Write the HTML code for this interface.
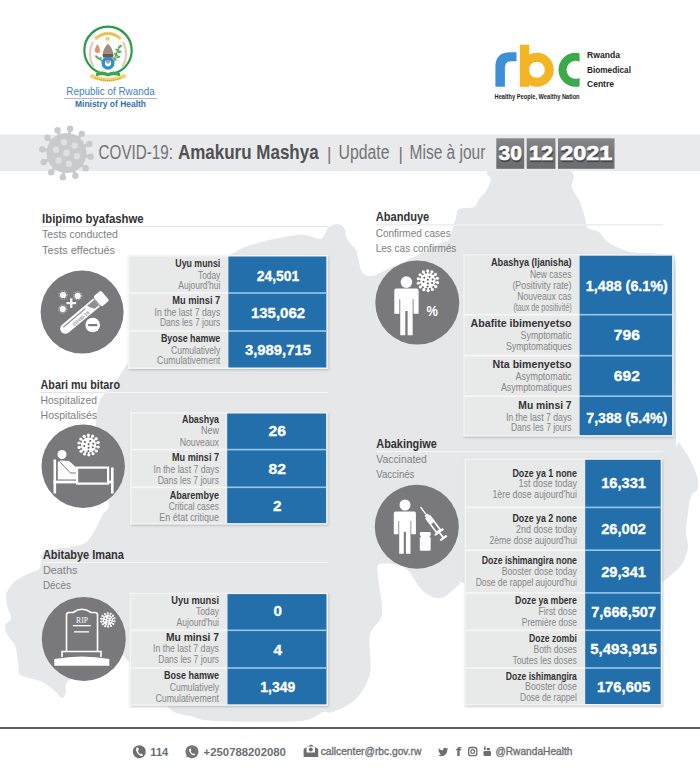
<!DOCTYPE html>
<html><head><meta charset="utf-8"><title>COVID-19 Update</title>
<style>html,body{margin:0;padding:0;background:#fff;width:700px;height:779px;overflow:hidden}</style>
</head><body>
<svg width="700" height="779" viewBox="0 0 700 779" style="display:block">
<defs>
<filter id="sh" x="-10%" y="-10%" width="120%" height="120%"><feGaussianBlur stdDeviation="1.2"/></filter>
<linearGradient id="dg" x1="0" y1="0" x2="0" y2="1"><stop offset="0" stop-color="#858688"/><stop offset="0.5" stop-color="#767779"/><stop offset="1" stop-color="#6a6b6d"/></linearGradient>
<g id="virus">
 <circle cx="0" cy="0" r="7.2" fill="#fff"/>
 <line x1="6.37" y1="1.29" x2="8.82" y2="1.79" stroke="#fff" stroke-width="1.3"/>
 <circle cx="9.21" cy="1.87" r="1.5" fill="#fff"/>
 <line x1="5.18" y1="3.93" x2="7.17" y2="5.44" stroke="#fff" stroke-width="1.3"/>
 <circle cx="7.49" cy="5.68" r="1.5" fill="#fff"/>
 <line x1="2.96" y1="5.79" x2="4.10" y2="8.01" stroke="#fff" stroke-width="1.3"/>
 <circle cx="4.28" cy="8.37" r="1.5" fill="#fff"/>
 <line x1="0.16" y1="6.50" x2="0.22" y2="9.00" stroke="#fff" stroke-width="1.3"/>
 <circle cx="0.23" cy="9.40" r="1.5" fill="#fff"/>
 <line x1="-2.68" y1="5.92" x2="-3.71" y2="8.20" stroke="#fff" stroke-width="1.3"/>
 <circle cx="-3.87" cy="8.57" r="1.5" fill="#fff"/>
 <line x1="-4.98" y1="4.18" x2="-6.90" y2="5.78" stroke="#fff" stroke-width="1.3"/>
 <circle cx="-7.20" cy="6.04" r="1.5" fill="#fff"/>
 <line x1="-6.30" y1="1.60" x2="-8.72" y2="2.22" stroke="#fff" stroke-width="1.3"/>
 <circle cx="-9.11" cy="2.31" r="1.5" fill="#fff"/>
 <line x1="-6.37" y1="-1.29" x2="-8.82" y2="-1.79" stroke="#fff" stroke-width="1.3"/>
 <circle cx="-9.21" cy="-1.87" r="1.5" fill="#fff"/>
 <line x1="-5.18" y1="-3.93" x2="-7.17" y2="-5.44" stroke="#fff" stroke-width="1.3"/>
 <circle cx="-7.49" cy="-5.68" r="1.5" fill="#fff"/>
 <line x1="-2.96" y1="-5.79" x2="-4.10" y2="-8.01" stroke="#fff" stroke-width="1.3"/>
 <circle cx="-4.28" cy="-8.37" r="1.5" fill="#fff"/>
 <line x1="-0.16" y1="-6.50" x2="-0.22" y2="-9.00" stroke="#fff" stroke-width="1.3"/>
 <circle cx="-0.23" cy="-9.40" r="1.5" fill="#fff"/>
 <line x1="2.68" y1="-5.92" x2="3.71" y2="-8.20" stroke="#fff" stroke-width="1.3"/>
 <circle cx="3.87" cy="-8.57" r="1.5" fill="#fff"/>
 <line x1="4.98" y1="-4.18" x2="6.90" y2="-5.78" stroke="#fff" stroke-width="1.3"/>
 <circle cx="7.20" cy="-6.04" r="1.5" fill="#fff"/>
 <line x1="6.30" y1="-1.60" x2="8.72" y2="-2.22" stroke="#fff" stroke-width="1.3"/>
 <circle cx="9.11" cy="-2.31" r="1.5" fill="#fff"/>
 <circle cx="-3.5" cy="-2.8" r="0.95" fill="#5a5b5d"/>
 <circle cx="1.5" cy="-3.8" r="0.95" fill="#5a5b5d"/>
 <circle cx="4.5" cy="-1.2" r="0.95" fill="#5a5b5d"/>
 <circle cx="-4.2" cy="1.0" r="0.95" fill="#5a5b5d"/>
 <circle cx="0.0" cy="-0.8" r="0.95" fill="#5a5b5d"/>
 <circle cx="4.0" cy="2.2" r="0.95" fill="#5a5b5d"/>
 <circle cx="0.0" cy="2.6" r="0.95" fill="#5a5b5d"/>
 <circle cx="-0.3" cy="5.6" r="0.95" fill="#5a5b5d"/>
</g>
</defs>
<rect width="700" height="779" fill="#fff"/>
<clipPath id="mapclip"><path d="M140.0 345.0 C146.2 334.0 154.8 304.9 170.0 290.0 C185.2 275.1 220.3 259.7 235.0 252.0 C249.7 244.3 253.2 244.6 262.0 242.0 C270.8 239.4 283.1 237.1 290.0 236.0 C296.9 234.9 300.2 234.5 305.0 235.0 C309.8 235.5 316.8 239.2 320.0 239.0 C323.2 238.8 323.7 235.8 325.0 234.0 C326.3 232.2 326.6 229.5 328.0 228.0 C329.4 226.5 331.9 225.0 334.0 224.5 C336.1 224.0 339.2 224.1 341.0 225.0 C342.8 225.9 344.2 228.1 345.0 230.0 C345.8 231.9 345.0 234.8 346.0 237.0 C347.0 239.2 349.4 241.9 351.0 244.0 C352.6 246.1 354.9 247.9 356.0 250.0 C357.1 252.1 357.0 253.5 358.0 257.0 C359.0 260.5 359.8 269.0 362.0 272.0 C364.2 275.0 367.5 276.6 372.0 276.0 C376.5 275.4 383.3 271.0 390.0 268.0 C396.7 265.0 405.8 261.0 414.0 257.0 C422.2 253.0 435.4 245.7 441.0 243.0 C446.6 240.3 447.1 242.6 449.0 240.0 C450.9 237.4 451.9 230.5 453.0 227.0 C454.1 223.5 455.0 220.9 456.0 218.0 C457.0 215.1 456.1 210.8 459.0 209.0 C461.9 207.2 470.8 208.6 474.0 207.0 C477.2 205.4 477.1 201.6 479.0 199.0 C480.9 196.4 484.1 194.0 486.0 191.0 C487.9 188.0 490.0 183.4 491.0 180.0 C492.0 176.6 479.8 171.6 492.0 170.0 C504.2 168.4 554.2 167.1 567.0 170.0 C579.8 172.9 569.9 182.9 572.0 188.0 C574.1 193.1 577.9 197.2 580.0 202.0 C582.1 206.8 583.7 213.8 585.0 218.0 C586.3 222.2 585.8 225.8 588.0 228.0 C590.2 230.2 595.6 229.6 599.0 232.0 C602.4 234.4 603.9 239.8 609.0 243.0 C614.1 246.2 622.8 250.2 631.0 252.0 C639.2 253.8 653.1 252.7 660.0 254.0 C666.9 255.3 671.4 252.6 674.0 260.0 C676.6 267.4 675.7 271.8 676.0 300.0 C676.3 328.2 675.5 413.3 676.0 436.0 C676.5 458.7 677.1 438.8 679.0 442.0 C680.9 445.2 685.3 451.0 688.0 456.0 C690.7 461.0 694.4 467.9 696.0 473.0 C697.6 478.1 698.8 484.3 698.0 488.0 C697.2 491.7 692.6 492.0 691.0 496.0 C689.4 500.0 688.8 507.1 688.0 513.0 C687.2 518.9 686.0 527.6 686.0 533.0 C686.0 538.4 688.6 542.0 688.0 547.0 C687.4 552.0 684.7 559.5 682.0 564.0 C679.3 568.5 673.9 572.3 671.0 575.0 C668.1 577.7 669.0 577.0 664.0 581.0 C659.0 585.0 650.2 590.6 640.0 600.0 C629.8 609.4 628.3 642.7 600.0 640.0 C571.7 637.3 485.4 592.0 463.0 583.0 C440.6 574.0 463.5 581.6 460.0 584.0 C456.5 586.4 446.9 596.9 441.0 598.0 C435.1 599.1 428.8 595.8 423.0 591.0 C417.2 586.2 411.9 572.3 405.0 568.0 C398.1 563.7 384.3 562.7 380.0 564.0 C375.7 565.3 377.7 568.0 378.0 576.0 C378.3 584.0 383.3 604.6 382.0 614.0 C380.7 623.4 371.9 625.6 370.0 635.0 C368.1 644.4 372.2 662.8 370.0 673.0 C367.8 683.2 361.9 692.8 356.0 699.0 C350.1 705.2 338.3 709.9 333.0 712.0 C327.7 714.1 328.3 710.6 323.0 712.0 C317.7 713.4 317.3 719.6 300.0 721.0 C282.7 722.4 232.6 721.8 215.0 721.0 C197.4 720.2 195.6 717.1 190.0 716.0 C184.4 714.9 183.7 715.6 180.0 714.0 C176.3 712.4 175.3 714.5 167.0 706.0 C158.7 697.5 135.7 669.2 128.0 661.0 C120.3 652.8 125.1 653.6 119.0 655.0 C112.9 656.4 98.2 665.8 90.0 670.0 C81.8 674.2 71.6 677.5 67.7 681.3 C63.8 685.1 66.6 691.0 65.6 693.6 C64.6 696.2 63.5 698.4 61.5 697.7 C59.5 697.0 56.6 692.1 53.3 689.5 C50.0 686.9 46.2 683.6 41.0 681.3 C35.8 679.0 24.1 677.6 20.5 675.0 C16.9 672.4 19.3 669.5 18.5 664.9 C17.7 660.3 17.0 651.0 15.4 646.4 C13.8 641.8 9.8 639.3 8.2 636.0 C6.6 632.7 4.6 628.8 5.1 625.9 C5.6 623.0 10.8 620.3 11.3 617.7 C11.8 615.1 9.0 612.5 8.2 609.5 C7.4 606.5 6.4 601.8 6.2 599.0 C6.0 596.2 5.7 594.7 7.0 592.0 C8.3 589.3 10.8 584.9 14.3 582.0 C17.8 579.1 24.5 575.8 28.6 573.6 C32.7 571.4 37.7 571.5 40.0 568.0 C42.3 564.5 40.3 555.1 43.0 552.0 C45.7 548.9 52.4 549.4 57.0 548.6 C61.6 547.8 67.3 547.7 71.5 547.0 C75.7 546.3 80.0 545.4 83.0 544.0 C86.0 542.6 87.9 540.6 90.0 538.0 C92.1 535.4 93.9 531.8 96.0 528.0 C98.1 524.2 100.9 518.0 103.0 514.0 C105.1 510.0 109.5 511.6 109.0 503.0 C108.5 494.4 102.1 472.6 100.0 460.0 C97.9 447.4 96.5 431.8 96.0 424.0 C95.5 416.2 96.4 414.8 97.0 411.0 C97.6 407.2 98.6 403.0 100.0 400.0 C101.4 397.0 104.6 393.6 106.0 392.0 C107.4 390.4 107.1 392.2 109.0 390.0 C110.9 387.8 115.1 382.2 118.0 378.0 C120.9 373.8 124.9 367.0 127.0 364.0 C129.1 361.0 128.9 362.0 131.0 359.0 C133.1 356.0 133.8 356.0 140.0 345.0 Z"/></clipPath>
<path d="M140.0 345.0 C146.2 334.0 154.8 304.9 170.0 290.0 C185.2 275.1 220.3 259.7 235.0 252.0 C249.7 244.3 253.2 244.6 262.0 242.0 C270.8 239.4 283.1 237.1 290.0 236.0 C296.9 234.9 300.2 234.5 305.0 235.0 C309.8 235.5 316.8 239.2 320.0 239.0 C323.2 238.8 323.7 235.8 325.0 234.0 C326.3 232.2 326.6 229.5 328.0 228.0 C329.4 226.5 331.9 225.0 334.0 224.5 C336.1 224.0 339.2 224.1 341.0 225.0 C342.8 225.9 344.2 228.1 345.0 230.0 C345.8 231.9 345.0 234.8 346.0 237.0 C347.0 239.2 349.4 241.9 351.0 244.0 C352.6 246.1 354.9 247.9 356.0 250.0 C357.1 252.1 357.0 253.5 358.0 257.0 C359.0 260.5 359.8 269.0 362.0 272.0 C364.2 275.0 367.5 276.6 372.0 276.0 C376.5 275.4 383.3 271.0 390.0 268.0 C396.7 265.0 405.8 261.0 414.0 257.0 C422.2 253.0 435.4 245.7 441.0 243.0 C446.6 240.3 447.1 242.6 449.0 240.0 C450.9 237.4 451.9 230.5 453.0 227.0 C454.1 223.5 455.0 220.9 456.0 218.0 C457.0 215.1 456.1 210.8 459.0 209.0 C461.9 207.2 470.8 208.6 474.0 207.0 C477.2 205.4 477.1 201.6 479.0 199.0 C480.9 196.4 484.1 194.0 486.0 191.0 C487.9 188.0 490.0 183.4 491.0 180.0 C492.0 176.6 479.8 171.6 492.0 170.0 C504.2 168.4 554.2 167.1 567.0 170.0 C579.8 172.9 569.9 182.9 572.0 188.0 C574.1 193.1 577.9 197.2 580.0 202.0 C582.1 206.8 583.7 213.8 585.0 218.0 C586.3 222.2 585.8 225.8 588.0 228.0 C590.2 230.2 595.6 229.6 599.0 232.0 C602.4 234.4 603.9 239.8 609.0 243.0 C614.1 246.2 622.8 250.2 631.0 252.0 C639.2 253.8 653.1 252.7 660.0 254.0 C666.9 255.3 671.4 252.6 674.0 260.0 C676.6 267.4 675.7 271.8 676.0 300.0 C676.3 328.2 675.5 413.3 676.0 436.0 C676.5 458.7 677.1 438.8 679.0 442.0 C680.9 445.2 685.3 451.0 688.0 456.0 C690.7 461.0 694.4 467.9 696.0 473.0 C697.6 478.1 698.8 484.3 698.0 488.0 C697.2 491.7 692.6 492.0 691.0 496.0 C689.4 500.0 688.8 507.1 688.0 513.0 C687.2 518.9 686.0 527.6 686.0 533.0 C686.0 538.4 688.6 542.0 688.0 547.0 C687.4 552.0 684.7 559.5 682.0 564.0 C679.3 568.5 673.9 572.3 671.0 575.0 C668.1 577.7 669.0 577.0 664.0 581.0 C659.0 585.0 650.2 590.6 640.0 600.0 C629.8 609.4 628.3 642.7 600.0 640.0 C571.7 637.3 485.4 592.0 463.0 583.0 C440.6 574.0 463.5 581.6 460.0 584.0 C456.5 586.4 446.9 596.9 441.0 598.0 C435.1 599.1 428.8 595.8 423.0 591.0 C417.2 586.2 411.9 572.3 405.0 568.0 C398.1 563.7 384.3 562.7 380.0 564.0 C375.7 565.3 377.7 568.0 378.0 576.0 C378.3 584.0 383.3 604.6 382.0 614.0 C380.7 623.4 371.9 625.6 370.0 635.0 C368.1 644.4 372.2 662.8 370.0 673.0 C367.8 683.2 361.9 692.8 356.0 699.0 C350.1 705.2 338.3 709.9 333.0 712.0 C327.7 714.1 328.3 710.6 323.0 712.0 C317.7 713.4 317.3 719.6 300.0 721.0 C282.7 722.4 232.6 721.8 215.0 721.0 C197.4 720.2 195.6 717.1 190.0 716.0 C184.4 714.9 183.7 715.6 180.0 714.0 C176.3 712.4 175.3 714.5 167.0 706.0 C158.7 697.5 135.7 669.2 128.0 661.0 C120.3 652.8 125.1 653.6 119.0 655.0 C112.9 656.4 98.2 665.8 90.0 670.0 C81.8 674.2 71.6 677.5 67.7 681.3 C63.8 685.1 66.6 691.0 65.6 693.6 C64.6 696.2 63.5 698.4 61.5 697.7 C59.5 697.0 56.6 692.1 53.3 689.5 C50.0 686.9 46.2 683.6 41.0 681.3 C35.8 679.0 24.1 677.6 20.5 675.0 C16.9 672.4 19.3 669.5 18.5 664.9 C17.7 660.3 17.0 651.0 15.4 646.4 C13.8 641.8 9.8 639.3 8.2 636.0 C6.6 632.7 4.6 628.8 5.1 625.9 C5.6 623.0 10.8 620.3 11.3 617.7 C11.8 615.1 9.0 612.5 8.2 609.5 C7.4 606.5 6.4 601.8 6.2 599.0 C6.0 596.2 5.7 594.7 7.0 592.0 C8.3 589.3 10.8 584.9 14.3 582.0 C17.8 579.1 24.5 575.8 28.6 573.6 C32.7 571.4 37.7 571.5 40.0 568.0 C42.3 564.5 40.3 555.1 43.0 552.0 C45.7 548.9 52.4 549.4 57.0 548.6 C61.6 547.8 67.3 547.7 71.5 547.0 C75.7 546.3 80.0 545.4 83.0 544.0 C86.0 542.6 87.9 540.6 90.0 538.0 C92.1 535.4 93.9 531.8 96.0 528.0 C98.1 524.2 100.9 518.0 103.0 514.0 C105.1 510.0 109.5 511.6 109.0 503.0 C108.5 494.4 102.1 472.6 100.0 460.0 C97.9 447.4 96.5 431.8 96.0 424.0 C95.5 416.2 96.4 414.8 97.0 411.0 C97.6 407.2 98.6 403.0 100.0 400.0 C101.4 397.0 104.6 393.6 106.0 392.0 C107.4 390.4 107.1 392.2 109.0 390.0 C110.9 387.8 115.1 382.2 118.0 378.0 C120.9 373.8 124.9 367.0 127.0 364.0 C129.1 361.0 128.9 362.0 131.0 359.0 C133.1 356.0 133.8 356.0 140.0 345.0 Z" fill="#e6e7e8"/>
<circle cx="108" cy="50.4" r="23.7" fill="none" stroke="#2b9a48" stroke-width="2.2"/>
<path d="M95 39 Q108 28 121 39" stroke="#f1d06a" stroke-width="3.2" fill="none"/>
<path d="M97 37.5 Q108 30 119 37.5" stroke="#8a7a50" stroke-width="0.6" fill="none" stroke-dasharray="1 0.8"/>
<circle cx="107.6" cy="38.8" r="2.3" fill="#f3d27a"/>
<path d="M93 42 Q86.5 54 93.5 67" stroke="#e2cdbd" stroke-width="2.2" fill="none"/>
<path d="M123 42 Q129.5 54 122.5 67" stroke="#e2cdbd" stroke-width="2.2" fill="none"/>
<path d="M97.5 44 Q94 49 95 52 Q97.5 54 100 52 Q100.5 48 97.5 44 Z" fill="#e3946c"/>
<path d="M102.3 56 Q103.5 47.5 108 43.8 Q112.5 47.5 113.7 56 Z" fill="#a38c7a"/>
<rect x="103" y="54" width="10" height="3.6" fill="#6a5a50"/>
<path d="M113.5 62.5 Q116 52 121 45" stroke="#5aae62" stroke-width="1.2" fill="none"/>
<ellipse cx="120.0" cy="46.5" rx="2.3" ry="1.1" fill="#5aae62" transform="rotate(-30 120.0 46.5)"/>
<ellipse cx="117.5" cy="50.0" rx="2.3" ry="1.1" fill="#5aae62" transform="rotate(30 117.5 50.0)"/>
<ellipse cx="119.5" cy="52.0" rx="2.3" ry="1.1" fill="#5aae62" transform="rotate(-20 119.5 52.0)"/>
<ellipse cx="116.0" cy="54.5" rx="2.3" ry="1.1" fill="#5aae62" transform="rotate(35 116.0 54.5)"/>
<ellipse cx="118.0" cy="57.0" rx="2.3" ry="1.1" fill="#5aae62" transform="rotate(-15 118.0 57.0)"/>
<ellipse cx="114.8" cy="59.0" rx="2.3" ry="1.1" fill="#5aae62" transform="rotate(40 114.8 59.0)"/>
<path d="M95.5 55.5 Q100 59.5 104.5 62" stroke="#5aae62" stroke-width="1.2" fill="none"/>
<ellipse cx="97.0" cy="57.5" rx="2" ry="1" fill="#5aae62" transform="rotate(40 97.0 57.5)"/>
<ellipse cx="100.0" cy="58.5" rx="2" ry="1" fill="#5aae62" transform="rotate(-30 100.0 58.5)"/>
<ellipse cx="102.5" cy="61.0" rx="2" ry="1" fill="#5aae62" transform="rotate(30 102.5 61.0)"/>
<circle cx="108" cy="63.2" r="4.8" fill="none" stroke="#2b90d2" stroke-width="3.4"/>
<circle cx="108" cy="61.5" r="2.2" fill="#7a6a60" opacity="0.6"/>
<path d="M96 73 Q102 70 108 73 Q114 70 120 73 L120 76.5 Q114 74 108 76.5 Q102 74 96 76.5 Z" fill="#3aa652"/>
<path d="M90.5 75.5 Q108 84 125.5 75.5" stroke="#f2d46b" stroke-width="4" fill="none"/>
<path d="M95 78 Q108 83 121 78" stroke="#7a6a40" stroke-width="0.6" fill="none" stroke-dasharray="1.2 0.8"/>
<text x="110.50" y="94.50" font-family="Liberation Sans" font-size="11.20" font-weight="normal" fill="#3c82c2" text-anchor="middle" textLength="88.50" lengthAdjust="spacingAndGlyphs" >Republic of Rwanda</text>
<rect x="64" y="98" width="93" height="0.8" fill="#9aa7b5"/>
<text x="110.50" y="106.80" font-family="Liberation Sans" font-size="8.60" font-weight="bold" fill="#2f72b2" text-anchor="middle" textLength="71.00" lengthAdjust="spacingAndGlyphs" >Ministry of Health</text>
<path d="M495.4 86.8 L495.4 67 Q495.4 52.2 510 52.2 L516.5 52.2 L516.5 61.3 L511 61.3 Q504.9 61.3 504.9 68 L504.9 86.8 Z" fill="#3f8fd6"/>
<rect x="519.9" y="44.7" width="9.4" height="42.1" fill="#f4b524"/>
<circle cx="536.8" cy="69.85" r="12.5" fill="none" stroke="#f4b524" stroke-width="9"/>
<clipPath id="cclip"><rect x="550" y="40" width="29.6" height="60"/></clipPath>
<circle cx="575.5" cy="69.85" r="13" fill="none" stroke="#3aaa4a" stroke-width="8" clip-path="url(#cclip)"/>
<text x="587.00" y="58.00" font-family="Liberation Sans" font-size="9.50" font-weight="bold" fill="#231f20" text-anchor="start" textLength="33.00" lengthAdjust="spacingAndGlyphs" >Rwanda</text>
<text x="587.00" y="72.60" font-family="Liberation Sans" font-size="9.50" font-weight="bold" fill="#231f20" text-anchor="start" textLength="44.00" lengthAdjust="spacingAndGlyphs" >Biomedical</text>
<text x="587.00" y="87.20" font-family="Liberation Sans" font-size="9.50" font-weight="bold" fill="#231f20" text-anchor="start" textLength="27.00" lengthAdjust="spacingAndGlyphs" >Centre</text>
<text x="494.60" y="99.20" font-family="Liberation Sans" font-size="7.40" font-weight="bold" fill="#231f20" text-anchor="start" textLength="85.00" lengthAdjust="spacingAndGlyphs" >Healthy People, Wealthy Nation</text>
<rect x="0" y="134.5" width="700" height="36.5" fill="#e9eaec"/>
<g transform="translate(66.5 153)" fill="#c9cacc">
<circle r="20"/>
<line x1="18.79" y1="2.84" x2="24.22" y2="3.66" stroke="#c9cacc" stroke-width="3"/>
<circle cx="24.22" cy="3.66" r="3.2"/>
<line x1="14.85" y1="11.85" x2="19.15" y2="15.28" stroke="#c9cacc" stroke-width="3"/>
<circle cx="19.15" cy="15.28" r="3.2"/>
<line x1="6.93" y1="17.69" x2="8.94" y2="22.81" stroke="#c9cacc" stroke-width="3"/>
<circle cx="8.94" cy="22.81" r="3.2"/>
<line x1="-2.84" y1="18.79" x2="-3.66" y2="24.22" stroke="#c9cacc" stroke-width="3"/>
<circle cx="-3.66" cy="24.22" r="3.2"/>
<line x1="-11.85" y1="14.85" x2="-15.28" y2="19.15" stroke="#c9cacc" stroke-width="3"/>
<circle cx="-15.28" cy="19.15" r="3.2"/>
<line x1="-17.69" y1="6.93" x2="-22.81" y2="8.94" stroke="#c9cacc" stroke-width="3"/>
<circle cx="-22.81" cy="8.94" r="3.2"/>
<line x1="-18.79" y1="-2.84" x2="-24.22" y2="-3.66" stroke="#c9cacc" stroke-width="3"/>
<circle cx="-24.22" cy="-3.66" r="3.2"/>
<line x1="-14.85" y1="-11.85" x2="-19.15" y2="-15.28" stroke="#c9cacc" stroke-width="3"/>
<circle cx="-19.15" cy="-15.28" r="3.2"/>
<line x1="-6.93" y1="-17.69" x2="-8.94" y2="-22.81" stroke="#c9cacc" stroke-width="3"/>
<circle cx="-8.94" cy="-22.81" r="3.2"/>
<line x1="2.84" y1="-18.79" x2="3.66" y2="-24.22" stroke="#c9cacc" stroke-width="3"/>
<circle cx="3.66" cy="-24.22" r="3.2"/>
<line x1="11.85" y1="-14.85" x2="15.28" y2="-19.15" stroke="#c9cacc" stroke-width="3"/>
<circle cx="15.28" cy="-19.15" r="3.2"/>
<line x1="17.69" y1="-6.93" x2="22.81" y2="-8.94" stroke="#c9cacc" stroke-width="3"/>
<circle cx="22.81" cy="-8.94" r="3.2"/>
<circle cx="10.51" cy="3.25" r="3.2" fill="#dedfe1"/>
<circle cx="2.44" cy="10.73" r="3.2" fill="#dedfe1"/>
<circle cx="-8.07" cy="7.48" r="3.2" fill="#dedfe1"/>
<circle cx="-10.51" cy="-3.25" r="3.2" fill="#dedfe1"/>
<circle cx="-2.44" cy="-10.73" r="3.2" fill="#dedfe1"/>
<circle cx="8.07" cy="-7.48" r="3.2" fill="#dedfe1"/>
<circle cx="0" cy="0" r="3.4" fill="#dedfe1"/>
</g>
<text x="98.60" y="158.60" font-family="Liberation Sans" font-size="19.50" font-weight="normal" fill="#737477" text-anchor="start" textLength="74.30" lengthAdjust="spacingAndGlyphs" >COVID-19:</text>
<text x="178.00" y="158.60" font-family="Liberation Sans" font-size="19.30" font-weight="bold" fill="#505153" text-anchor="start" textLength="140.60" lengthAdjust="spacingAndGlyphs" >Amakuru Mashya</text>
<text x="327.00" y="160.00" font-family="Liberation Sans" font-size="18.50" font-weight="normal" fill="#737477" text-anchor="start" textLength="4.42" lengthAdjust="spacingAndGlyphs" >|</text>
<text x="338.50" y="158.60" font-family="Liberation Sans" font-size="19.50" font-weight="normal" fill="#737477" text-anchor="start" textLength="51.00" lengthAdjust="spacingAndGlyphs" >Update</text>
<text x="398.50" y="160.00" font-family="Liberation Sans" font-size="18.50" font-weight="normal" fill="#737477" text-anchor="start" textLength="4.42" lengthAdjust="spacingAndGlyphs" >|</text>
<text x="409.60" y="158.60" font-family="Liberation Sans" font-size="19.50" font-weight="normal" fill="#737477" text-anchor="start" textLength="75.80" lengthAdjust="spacingAndGlyphs" >Mise à jour</text>
<rect x="496.3" y="138.3" width="27.9" height="30.5" fill="url(#dg)"/>
<text x="510.85" y="161.60" font-family="Liberation Sans" font-size="21.00" font-weight="bold" fill="#47484a" text-anchor="middle" textLength="23.40" lengthAdjust="spacingAndGlyphs" stroke="#47484a" stroke-width="0.6">30</text>
<text x="510.25" y="160.40" font-family="Liberation Sans" font-size="21.00" font-weight="bold" fill="#ffffff" text-anchor="middle" textLength="23.40" lengthAdjust="spacingAndGlyphs" stroke="#fff" stroke-width="0.6">30</text>
<rect x="526.7" y="138.3" width="28.7" height="30.5" fill="url(#dg)"/>
<text x="541.65" y="161.60" font-family="Liberation Sans" font-size="21.00" font-weight="bold" fill="#47484a" text-anchor="middle" textLength="24.20" lengthAdjust="spacingAndGlyphs" stroke="#47484a" stroke-width="0.6">12</text>
<text x="541.05" y="160.40" font-family="Liberation Sans" font-size="21.00" font-weight="bold" fill="#ffffff" text-anchor="middle" textLength="24.20" lengthAdjust="spacingAndGlyphs" stroke="#fff" stroke-width="0.6">12</text>
<rect x="558.0" y="138.3" width="56.5" height="30.5" fill="url(#dg)"/>
<text x="586.85" y="161.60" font-family="Liberation Sans" font-size="21.00" font-weight="bold" fill="#47484a" text-anchor="middle" textLength="52.00" lengthAdjust="spacingAndGlyphs" stroke="#47484a" stroke-width="0.6">2021</text>
<text x="586.25" y="160.40" font-family="Liberation Sans" font-size="21.00" font-weight="bold" fill="#ffffff" text-anchor="middle" textLength="52.00" lengthAdjust="spacingAndGlyphs" stroke="#fff" stroke-width="0.6">2021</text>
<text x="42.10" y="223.20" font-family="Liberation Sans" font-size="12.30" font-weight="bold" fill="#323234" text-anchor="start" textLength="101.50" lengthAdjust="spacingAndGlyphs" >Ibipimo byafashwe</text>
<rect x="42.1" y="226.2" width="286.4" height="1" fill="#e3e4e5"/>
<rect x="42.1" y="226.2" width="286.4" height="1" fill="#f6f6f7" clip-path="url(#mapclip)"/>
<text x="42.10" y="238.30" font-family="Liberation Sans" font-size="11.50" font-weight="normal" fill="#7e7f81" text-anchor="start" textLength="75.80" lengthAdjust="spacingAndGlyphs" >Tests conducted</text>
<text x="42.10" y="253.50" font-family="Liberation Sans" font-size="11.50" font-weight="normal" fill="#7e7f81" text-anchor="start" textLength="73.00" lengthAdjust="spacingAndGlyphs" >Tests effectués</text>
<text x="375.70" y="221.40" font-family="Liberation Sans" font-size="12.30" font-weight="bold" fill="#323234" text-anchor="start" textLength="53.60" lengthAdjust="spacingAndGlyphs" >Abanduye</text>
<rect x="375.7" y="224.4" width="287.3" height="1" fill="#e3e4e5"/>
<rect x="375.7" y="224.4" width="287.3" height="1" fill="#f6f6f7" clip-path="url(#mapclip)"/>
<text x="375.70" y="236.50" font-family="Liberation Sans" font-size="11.50" font-weight="normal" fill="#7e7f81" text-anchor="start" textLength="75.00" lengthAdjust="spacingAndGlyphs" >Confirmed cases</text>
<text x="375.70" y="251.70" font-family="Liberation Sans" font-size="11.50" font-weight="normal" fill="#7e7f81" text-anchor="start" textLength="80.70" lengthAdjust="spacingAndGlyphs" >Les cas confirmés</text>
<text x="40.60" y="389.00" font-family="Liberation Sans" font-size="12.30" font-weight="bold" fill="#323234" text-anchor="start" textLength="79.40" lengthAdjust="spacingAndGlyphs" >Abari mu bitaro</text>
<rect x="40.6" y="392.0" width="287.9" height="1" fill="#e3e4e5"/>
<rect x="40.6" y="392.0" width="287.9" height="1" fill="#f6f6f7" clip-path="url(#mapclip)"/>
<text x="40.60" y="404.10" font-family="Liberation Sans" font-size="11.50" font-weight="normal" fill="#7e7f81" text-anchor="start" textLength="56.30" lengthAdjust="spacingAndGlyphs" >Hospitalized</text>
<text x="40.60" y="419.30" font-family="Liberation Sans" font-size="11.50" font-weight="normal" fill="#7e7f81" text-anchor="start" textLength="56.50" lengthAdjust="spacingAndGlyphs" >Hospitalisés</text>
<text x="42.90" y="558.90" font-family="Liberation Sans" font-size="12.30" font-weight="bold" fill="#323234" text-anchor="start" textLength="81.00" lengthAdjust="spacingAndGlyphs" >Abitabye Imana</text>
<rect x="42.9" y="561.9" width="285.6" height="1" fill="#e3e4e5"/>
<rect x="42.9" y="561.9" width="285.6" height="1" fill="#f6f6f7" clip-path="url(#mapclip)"/>
<text x="42.90" y="574.00" font-family="Liberation Sans" font-size="11.50" font-weight="normal" fill="#7e7f81" text-anchor="start" textLength="34.50" lengthAdjust="spacingAndGlyphs" >Deaths</text>
<text x="42.90" y="589.20" font-family="Liberation Sans" font-size="11.50" font-weight="normal" fill="#7e7f81" text-anchor="start" textLength="28.00" lengthAdjust="spacingAndGlyphs" >Décès</text>
<text x="376.30" y="448.00" font-family="Liberation Sans" font-size="12.30" font-weight="bold" fill="#323234" text-anchor="start" textLength="60.50" lengthAdjust="spacingAndGlyphs" >Abakingiwe</text>
<rect x="376.3" y="451.0" width="286.7" height="1" fill="#e3e4e5"/>
<rect x="376.3" y="451.0" width="286.7" height="1" fill="#f6f6f7" clip-path="url(#mapclip)"/>
<text x="376.30" y="463.10" font-family="Liberation Sans" font-size="11.50" font-weight="normal" fill="#7e7f81" text-anchor="start" textLength="50.60" lengthAdjust="spacingAndGlyphs" >Vaccinated</text>
<text x="376.30" y="478.30" font-family="Liberation Sans" font-size="11.50" font-weight="normal" fill="#7e7f81" text-anchor="start" textLength="38.00" lengthAdjust="spacingAndGlyphs" >Vaccinés</text>
<rect x="128.8" y="256.2" width="199.8" height="114.0" fill="#9a9b9d" opacity="0.55" filter="url(#sh)"/>
<rect x="128.0" y="255.0" width="199.8" height="114.0" fill="#f4f4f5"/>
<rect x="129.5" y="256.5" width="98.9" height="111.0" fill="#e8e9e9"/>
<rect x="228.4" y="256.5" width="97.9" height="111.0" fill="#226fac"/>
<text x="220.30" y="266.50" font-family="Liberation Sans" font-size="10.20" font-weight="bold" fill="#333335" text-anchor="end" textLength="45.00" lengthAdjust="spacingAndGlyphs" >Uyu munsi</text>
<text x="220.30" y="278.90" font-family="Liberation Sans" font-size="10.20" font-weight="normal" fill="#858688" text-anchor="end" textLength="22.30" lengthAdjust="spacingAndGlyphs" >Today</text>
<text x="220.30" y="289.10" font-family="Liberation Sans" font-size="10.20" font-weight="normal" fill="#858688" text-anchor="end" textLength="42.00" lengthAdjust="spacingAndGlyphs" >Aujourd&#x27;hui</text>
<text x="278.00" y="280.50" font-family="Liberation Sans" font-size="14.00" font-weight="bold" fill="#ffffff" text-anchor="middle" textLength="42.40" lengthAdjust="spacingAndGlyphs" stroke="#fff" stroke-width="0.3">24,501</text>
<rect x="129.5" y="292.2" width="98.9" height="1.6" fill="#f7f7f8"/>
<rect x="228.4" y="292.2" width="97.9" height="1.6" fill="#9cc6ea"/>
<text x="220.30" y="304.30" font-family="Liberation Sans" font-size="10.20" font-weight="bold" fill="#333335" text-anchor="end" textLength="48.00" lengthAdjust="spacingAndGlyphs" >Mu minsi 7</text>
<text x="220.30" y="316.20" font-family="Liberation Sans" font-size="10.20" font-weight="normal" fill="#858688" text-anchor="end" textLength="65.70" lengthAdjust="spacingAndGlyphs" >In the last 7 days</text>
<text x="220.30" y="326.40" font-family="Liberation Sans" font-size="10.20" font-weight="normal" fill="#858688" text-anchor="end" textLength="60.30" lengthAdjust="spacingAndGlyphs" >Dans les 7 jours</text>
<text x="278.00" y="317.60" font-family="Liberation Sans" font-size="14.00" font-weight="bold" fill="#ffffff" text-anchor="middle" textLength="54.00" lengthAdjust="spacingAndGlyphs" stroke="#fff" stroke-width="0.3">135,062</text>
<rect x="129.5" y="330.2" width="98.9" height="1.6" fill="#f7f7f8"/>
<rect x="228.4" y="330.2" width="97.9" height="1.6" fill="#9cc6ea"/>
<text x="220.30" y="341.80" font-family="Liberation Sans" font-size="10.20" font-weight="bold" fill="#333335" text-anchor="end" textLength="59.40" lengthAdjust="spacingAndGlyphs" >Byose hamwe</text>
<text x="220.30" y="353.80" font-family="Liberation Sans" font-size="10.20" font-weight="normal" fill="#858688" text-anchor="end" textLength="49.30" lengthAdjust="spacingAndGlyphs" >Cumulatively</text>
<text x="220.30" y="363.80" font-family="Liberation Sans" font-size="10.20" font-weight="normal" fill="#858688" text-anchor="end" textLength="63.20" lengthAdjust="spacingAndGlyphs" >Cumulativement</text>
<text x="278.00" y="355.30" font-family="Liberation Sans" font-size="14.00" font-weight="bold" fill="#ffffff" text-anchor="middle" textLength="66.00" lengthAdjust="spacingAndGlyphs" stroke="#fff" stroke-width="0.3">3,989,715</text>
<rect x="130.8" y="413.2" width="197.6" height="112.6" fill="#9a9b9d" opacity="0.55" filter="url(#sh)"/>
<rect x="130.0" y="412.0" width="197.6" height="112.6" fill="#f4f4f5"/>
<rect x="131.5" y="413.5" width="95.7" height="109.6" fill="#e8e9e9"/>
<rect x="227.2" y="413.5" width="98.9" height="109.6" fill="#226fac"/>
<text x="219.00" y="422.90" font-family="Liberation Sans" font-size="10.20" font-weight="bold" fill="#333335" text-anchor="end" textLength="37.00" lengthAdjust="spacingAndGlyphs" >Abashya</text>
<text x="219.00" y="433.90" font-family="Liberation Sans" font-size="10.20" font-weight="normal" fill="#858688" text-anchor="end" textLength="18.00" lengthAdjust="spacingAndGlyphs" >New</text>
<text x="219.00" y="445.90" font-family="Liberation Sans" font-size="10.20" font-weight="normal" fill="#858688" text-anchor="end" textLength="39.30" lengthAdjust="spacingAndGlyphs" >Nouveaux</text>
<text x="277.30" y="436.40" font-family="Liberation Sans" font-size="14.00" font-weight="bold" fill="#ffffff" text-anchor="middle" textLength="17.50" lengthAdjust="spacingAndGlyphs" stroke="#fff" stroke-width="0.3">26</text>
<rect x="131.5" y="448.8" width="95.7" height="1.6" fill="#f7f7f8"/>
<rect x="227.2" y="448.8" width="98.9" height="1.6" fill="#9cc6ea"/>
<text x="219.00" y="461.00" font-family="Liberation Sans" font-size="10.20" font-weight="bold" fill="#333335" text-anchor="end" textLength="47.00" lengthAdjust="spacingAndGlyphs" >Mu minsi 7</text>
<text x="219.00" y="472.60" font-family="Liberation Sans" font-size="10.20" font-weight="normal" fill="#858688" text-anchor="end" textLength="65.40" lengthAdjust="spacingAndGlyphs" >In the last 7 days</text>
<text x="219.00" y="483.60" font-family="Liberation Sans" font-size="10.20" font-weight="normal" fill="#858688" text-anchor="end" textLength="61.30" lengthAdjust="spacingAndGlyphs" >Dans les 7 jours</text>
<text x="277.30" y="473.50" font-family="Liberation Sans" font-size="14.00" font-weight="bold" fill="#ffffff" text-anchor="middle" textLength="17.50" lengthAdjust="spacingAndGlyphs" stroke="#fff" stroke-width="0.3">82</text>
<rect x="131.5" y="486.5" width="95.7" height="1.6" fill="#f7f7f8"/>
<rect x="227.2" y="486.5" width="98.9" height="1.6" fill="#9cc6ea"/>
<text x="219.00" y="498.70" font-family="Liberation Sans" font-size="10.20" font-weight="bold" fill="#333335" text-anchor="end" textLength="49.30" lengthAdjust="spacingAndGlyphs" >Abarembye</text>
<text x="219.00" y="509.70" font-family="Liberation Sans" font-size="10.20" font-weight="normal" fill="#858688" text-anchor="end" textLength="50.30" lengthAdjust="spacingAndGlyphs" >Critical cases</text>
<text x="219.00" y="520.70" font-family="Liberation Sans" font-size="10.20" font-weight="normal" fill="#858688" text-anchor="end" textLength="59.70" lengthAdjust="spacingAndGlyphs" >En état critique</text>
<text x="277.30" y="511.20" font-family="Liberation Sans" font-size="14.00" font-weight="bold" fill="#ffffff" text-anchor="middle" textLength="8.50" lengthAdjust="spacingAndGlyphs" stroke="#fff" stroke-width="0.3">2</text>
<rect x="130.2" y="593.8" width="198.6" height="113.2" fill="#9a9b9d" opacity="0.55" filter="url(#sh)"/>
<rect x="129.4" y="592.6" width="198.6" height="113.2" fill="#f4f4f5"/>
<rect x="130.9" y="594.1" width="96.6" height="110.2" fill="#e8e9e9"/>
<rect x="227.5" y="594.1" width="99.0" height="110.2" fill="#226fac"/>
<text x="219.00" y="603.60" font-family="Liberation Sans" font-size="10.60" font-weight="bold" fill="#333335" text-anchor="end" textLength="47.80" lengthAdjust="spacingAndGlyphs" >Uyu munsi</text>
<text x="219.00" y="614.60" font-family="Liberation Sans" font-size="10.20" font-weight="normal" fill="#858688" text-anchor="end" textLength="23.00" lengthAdjust="spacingAndGlyphs" >Today</text>
<text x="219.00" y="625.60" font-family="Liberation Sans" font-size="10.20" font-weight="normal" fill="#858688" text-anchor="end" textLength="42.40" lengthAdjust="spacingAndGlyphs" >Aujourd&#x27;hui</text>
<text x="277.80" y="616.10" font-family="Liberation Sans" font-size="14.00" font-weight="bold" fill="#ffffff" text-anchor="middle" textLength="8.50" lengthAdjust="spacingAndGlyphs" stroke="#fff" stroke-width="0.3">0</text>
<rect x="130.9" y="629.5" width="96.6" height="1.6" fill="#f7f7f8"/>
<rect x="227.5" y="629.5" width="99.0" height="1.6" fill="#9cc6ea"/>
<text x="219.00" y="641.30" font-family="Liberation Sans" font-size="10.60" font-weight="bold" fill="#333335" text-anchor="end" textLength="53.00" lengthAdjust="spacingAndGlyphs" >Mu minsi 7</text>
<text x="219.00" y="652.30" font-family="Liberation Sans" font-size="10.20" font-weight="normal" fill="#858688" text-anchor="end" textLength="66.00" lengthAdjust="spacingAndGlyphs" >In the last 7 days</text>
<text x="219.00" y="663.30" font-family="Liberation Sans" font-size="10.20" font-weight="normal" fill="#858688" text-anchor="end" textLength="60.70" lengthAdjust="spacingAndGlyphs" >Dans les 7 jours</text>
<text x="277.80" y="654.50" font-family="Liberation Sans" font-size="14.00" font-weight="bold" fill="#ffffff" text-anchor="middle" textLength="8.50" lengthAdjust="spacingAndGlyphs" stroke="#fff" stroke-width="0.3">4</text>
<rect x="130.9" y="667.2" width="96.6" height="1.6" fill="#f7f7f8"/>
<rect x="227.5" y="667.2" width="99.0" height="1.6" fill="#9cc6ea"/>
<text x="219.00" y="679.00" font-family="Liberation Sans" font-size="10.60" font-weight="bold" fill="#333335" text-anchor="end" textLength="55.00" lengthAdjust="spacingAndGlyphs" >Bose hamwe</text>
<text x="219.00" y="690.60" font-family="Liberation Sans" font-size="10.20" font-weight="normal" fill="#858688" text-anchor="end" textLength="49.30" lengthAdjust="spacingAndGlyphs" >Cumulatively</text>
<text x="219.00" y="701.90" font-family="Liberation Sans" font-size="10.20" font-weight="normal" fill="#858688" text-anchor="end" textLength="63.50" lengthAdjust="spacingAndGlyphs" >Cumulativement</text>
<text x="277.80" y="691.60" font-family="Liberation Sans" font-size="14.00" font-weight="bold" fill="#ffffff" text-anchor="middle" textLength="35.00" lengthAdjust="spacingAndGlyphs" stroke="#fff" stroke-width="0.3">1,349</text>
<rect x="464.0" y="255.4" width="210.4" height="182.4" fill="#9a9b9d" opacity="0.55" filter="url(#sh)"/>
<rect x="463.2" y="254.2" width="210.4" height="182.4" fill="#f4f4f5"/>
<rect x="464.7" y="255.7" width="114.9" height="179.4" fill="#e8e9e9"/>
<rect x="579.6" y="255.7" width="92.5" height="179.4" fill="#226fac"/>
<text x="571.60" y="266.40" font-family="Liberation Sans" font-size="11.00" font-weight="bold" fill="#333335" text-anchor="end" textLength="80.60" lengthAdjust="spacingAndGlyphs" >Abashya (Ijanisha)</text>
<text x="571.60" y="277.90" font-family="Liberation Sans" font-size="10.20" font-weight="normal" fill="#858688" text-anchor="end" textLength="41.70" lengthAdjust="spacingAndGlyphs" >New cases</text>
<text x="571.60" y="289.20" font-family="Liberation Sans" font-size="10.20" font-weight="normal" fill="#858688" text-anchor="end" textLength="59.20" lengthAdjust="spacingAndGlyphs" >(Positivity rate)</text>
<text x="571.60" y="300.20" font-family="Liberation Sans" font-size="10.20" font-weight="normal" fill="#858688" text-anchor="end" textLength="54.30" lengthAdjust="spacingAndGlyphs" >Nouveaux cas</text>
<text x="571.60" y="310.70" font-family="Liberation Sans" font-size="10.20" font-weight="normal" fill="#858688" text-anchor="end" textLength="58.20" lengthAdjust="spacingAndGlyphs" >(taux de positivité)</text>
<text x="626.80" y="291.00" font-family="Liberation Sans" font-size="14.00" font-weight="bold" fill="#ffffff" text-anchor="middle" textLength="82.00" lengthAdjust="spacingAndGlyphs" stroke="#fff" stroke-width="0.3">1,488 (6.1%)</text>
<rect x="464.7" y="313.9" width="114.9" height="1.6" fill="#f7f7f8"/>
<rect x="579.6" y="313.9" width="92.5" height="1.6" fill="#9cc6ea"/>
<text x="571.60" y="327.20" font-family="Liberation Sans" font-size="11.00" font-weight="bold" fill="#333335" text-anchor="end" textLength="101.00" lengthAdjust="spacingAndGlyphs" >Abafite ibimenyetso</text>
<text x="571.60" y="338.70" font-family="Liberation Sans" font-size="10.20" font-weight="normal" fill="#858688" text-anchor="end" textLength="51.00" lengthAdjust="spacingAndGlyphs" >Symptomatic</text>
<text x="571.60" y="350.20" font-family="Liberation Sans" font-size="10.20" font-weight="normal" fill="#858688" text-anchor="end" textLength="65.70" lengthAdjust="spacingAndGlyphs" >Symptomatiques</text>
<text x="626.80" y="340.30" font-family="Liberation Sans" font-size="14.00" font-weight="bold" fill="#ffffff" text-anchor="middle" textLength="26.00" lengthAdjust="spacingAndGlyphs" stroke="#fff" stroke-width="0.3">796</text>
<rect x="464.7" y="354.9" width="114.9" height="1.6" fill="#f7f7f8"/>
<rect x="579.6" y="354.9" width="92.5" height="1.6" fill="#9cc6ea"/>
<text x="571.60" y="368.20" font-family="Liberation Sans" font-size="11.00" font-weight="bold" fill="#333335" text-anchor="end" textLength="79.00" lengthAdjust="spacingAndGlyphs" >Nta bimenyetso</text>
<text x="571.60" y="379.70" font-family="Liberation Sans" font-size="10.20" font-weight="normal" fill="#858688" text-anchor="end" textLength="56.00" lengthAdjust="spacingAndGlyphs" >Asymptomatic</text>
<text x="571.60" y="391.20" font-family="Liberation Sans" font-size="10.20" font-weight="normal" fill="#858688" text-anchor="end" textLength="70.70" lengthAdjust="spacingAndGlyphs" >Asymptomatiques</text>
<text x="626.80" y="381.40" font-family="Liberation Sans" font-size="14.00" font-weight="bold" fill="#ffffff" text-anchor="middle" textLength="26.00" lengthAdjust="spacingAndGlyphs" stroke="#fff" stroke-width="0.3">692</text>
<rect x="464.7" y="395.4" width="114.9" height="1.6" fill="#f7f7f8"/>
<rect x="579.6" y="395.4" width="92.5" height="1.6" fill="#9cc6ea"/>
<text x="571.60" y="409.30" font-family="Liberation Sans" font-size="11.00" font-weight="bold" fill="#333335" text-anchor="end" textLength="53.30" lengthAdjust="spacingAndGlyphs" >Mu minsi 7</text>
<text x="571.60" y="420.70" font-family="Liberation Sans" font-size="10.20" font-weight="normal" fill="#858688" text-anchor="end" textLength="65.70" lengthAdjust="spacingAndGlyphs" >In the last 7 days</text>
<text x="571.60" y="431.40" font-family="Liberation Sans" font-size="10.20" font-weight="normal" fill="#858688" text-anchor="end" textLength="60.70" lengthAdjust="spacingAndGlyphs" >Dans les 7 jours</text>
<text x="626.80" y="422.50" font-family="Liberation Sans" font-size="14.00" font-weight="bold" fill="#ffffff" text-anchor="middle" textLength="81.00" lengthAdjust="spacingAndGlyphs" stroke="#fff" stroke-width="0.3">7,388 (5.4%)</text>
<rect x="465.2" y="459.5" width="197.8" height="247.2" fill="#9a9b9d" opacity="0.55" filter="url(#sh)"/>
<rect x="464.4" y="458.3" width="197.8" height="247.2" fill="#f4f4f5"/>
<rect x="465.9" y="459.8" width="119.3" height="244.2" fill="#e8e9e9"/>
<rect x="585.2" y="459.8" width="75.5" height="244.2" fill="#226fac"/>
<text x="576.90" y="476.70" font-family="Liberation Sans" font-size="10.20" font-weight="bold" fill="#333335" text-anchor="end" textLength="64.50" lengthAdjust="spacingAndGlyphs" >Doze ya 1 none</text>
<text x="576.90" y="486.90" font-family="Liberation Sans" font-size="10.20" font-weight="normal" fill="#858688" text-anchor="end" textLength="58.50" lengthAdjust="spacingAndGlyphs" >1st dose today</text>
<text x="576.90" y="498.40" font-family="Liberation Sans" font-size="10.20" font-weight="normal" fill="#858688" text-anchor="end" textLength="84.50" lengthAdjust="spacingAndGlyphs" >1ère dose  aujourd&#x27;hui</text>
<text x="623.60" y="488.40" font-family="Liberation Sans" font-size="14.00" font-weight="bold" fill="#ffffff" text-anchor="middle" textLength="44.80" lengthAdjust="spacingAndGlyphs" stroke="#fff" stroke-width="0.3">16,331</text>
<rect x="465.9" y="506.6" width="119.3" height="1.6" fill="#f7f7f8"/>
<rect x="585.2" y="506.6" width="75.5" height="1.6" fill="#9cc6ea"/>
<text x="576.90" y="521.80" font-family="Liberation Sans" font-size="10.20" font-weight="bold" fill="#333335" text-anchor="end" textLength="64.50" lengthAdjust="spacingAndGlyphs" >Doze ya 2 none</text>
<text x="576.90" y="532.80" font-family="Liberation Sans" font-size="10.20" font-weight="normal" fill="#858688" text-anchor="end" textLength="60.80" lengthAdjust="spacingAndGlyphs" >2nd dose today</text>
<text x="576.90" y="543.50" font-family="Liberation Sans" font-size="10.20" font-weight="normal" fill="#858688" text-anchor="end" textLength="87.50" lengthAdjust="spacingAndGlyphs" >2ème dose  aujourd&#x27;hui</text>
<text x="623.60" y="534.10" font-family="Liberation Sans" font-size="14.00" font-weight="bold" fill="#ffffff" text-anchor="middle" textLength="44.80" lengthAdjust="spacingAndGlyphs" stroke="#fff" stroke-width="0.3">26,002</text>
<rect x="465.9" y="549.4" width="119.3" height="1.6" fill="#f7f7f8"/>
<rect x="585.2" y="549.4" width="75.5" height="1.6" fill="#9cc6ea"/>
<text x="576.90" y="563.50" font-family="Liberation Sans" font-size="10.20" font-weight="bold" fill="#333335" text-anchor="end" textLength="95.20" lengthAdjust="spacingAndGlyphs" >Doze ishimangira none</text>
<text x="576.90" y="575.20" font-family="Liberation Sans" font-size="10.20" font-weight="normal" fill="#858688" text-anchor="end" textLength="75.20" lengthAdjust="spacingAndGlyphs" >Booster dose today</text>
<text x="576.90" y="586.20" font-family="Liberation Sans" font-size="10.20" font-weight="normal" fill="#858688" text-anchor="end" textLength="101.20" lengthAdjust="spacingAndGlyphs" >Dose de rappel aujourd&#x27;hui</text>
<text x="623.60" y="576.90" font-family="Liberation Sans" font-size="14.00" font-weight="bold" fill="#ffffff" text-anchor="middle" textLength="44.80" lengthAdjust="spacingAndGlyphs" stroke="#fff" stroke-width="0.3">29,341</text>
<rect x="465.9" y="592.1" width="119.3" height="1.6" fill="#f7f7f8"/>
<rect x="585.2" y="592.1" width="75.5" height="1.6" fill="#9cc6ea"/>
<text x="576.90" y="604.30" font-family="Liberation Sans" font-size="10.20" font-weight="bold" fill="#333335" text-anchor="end" textLength="61.80" lengthAdjust="spacingAndGlyphs" >Doze ya mbere</text>
<text x="576.90" y="615.30" font-family="Liberation Sans" font-size="10.20" font-weight="normal" fill="#858688" text-anchor="end" textLength="38.40" lengthAdjust="spacingAndGlyphs" >First dose</text>
<text x="576.90" y="626.30" font-family="Liberation Sans" font-size="10.20" font-weight="normal" fill="#858688" text-anchor="end" textLength="55.10" lengthAdjust="spacingAndGlyphs" >Première dose</text>
<text x="623.60" y="617.00" font-family="Liberation Sans" font-size="14.00" font-weight="bold" fill="#ffffff" text-anchor="middle" textLength="64.80" lengthAdjust="spacingAndGlyphs" stroke="#fff" stroke-width="0.3">7,666,507</text>
<rect x="465.9" y="629.5" width="119.3" height="1.6" fill="#f7f7f8"/>
<rect x="585.2" y="629.5" width="75.5" height="1.6" fill="#9cc6ea"/>
<text x="576.90" y="642.00" font-family="Liberation Sans" font-size="10.20" font-weight="bold" fill="#333335" text-anchor="end" textLength="47.80" lengthAdjust="spacingAndGlyphs" >Doze zombi</text>
<text x="576.90" y="653.00" font-family="Liberation Sans" font-size="10.20" font-weight="normal" fill="#858688" text-anchor="end" textLength="43.40" lengthAdjust="spacingAndGlyphs" >Both doses</text>
<text x="576.90" y="663.70" font-family="Liberation Sans" font-size="10.20" font-weight="normal" fill="#858688" text-anchor="end" textLength="64.50" lengthAdjust="spacingAndGlyphs" >Toutes les doses</text>
<text x="623.60" y="654.30" font-family="Liberation Sans" font-size="14.00" font-weight="bold" fill="#ffffff" text-anchor="middle" textLength="66.80" lengthAdjust="spacingAndGlyphs" stroke="#fff" stroke-width="0.3">5,493,915</text>
<rect x="465.9" y="667.2" width="119.3" height="1.6" fill="#f7f7f8"/>
<rect x="585.2" y="667.2" width="75.5" height="1.6" fill="#9cc6ea"/>
<text x="576.90" y="679.70" font-family="Liberation Sans" font-size="10.20" font-weight="bold" fill="#333335" text-anchor="end" textLength="71.10" lengthAdjust="spacingAndGlyphs" >Doze ishimangira</text>
<text x="576.90" y="690.40" font-family="Liberation Sans" font-size="10.20" font-weight="normal" fill="#858688" text-anchor="end" textLength="51.80" lengthAdjust="spacingAndGlyphs" >Booster dose</text>
<text x="576.90" y="701.00" font-family="Liberation Sans" font-size="10.20" font-weight="normal" fill="#858688" text-anchor="end" textLength="56.80" lengthAdjust="spacingAndGlyphs" >Dose de rappel</text>
<text x="623.60" y="692.00" font-family="Liberation Sans" font-size="14.00" font-weight="bold" fill="#ffffff" text-anchor="middle" textLength="53.40" lengthAdjust="spacingAndGlyphs" stroke="#fff" stroke-width="0.3">176,605</text>
<circle cx="82.1" cy="312.1" r="41.5" fill="#79797b"/>
<g transform="translate(84 313) rotate(-40)">
<rect x="-29.5" y="-5.2" width="50" height="10.4" rx="5.2" fill="#fff"/>
<rect x="17.5" y="-6.6" width="10" height="13.2" rx="1.8" fill="#fff"/>
<line x1="17" y1="-6.6" x2="17" y2="6.6" stroke="#79797b" stroke-width="0.9"/>
<path d="M7 -3.6 L16.5 -3.6 L16.5 3.6 L11 3.6 Q8 0 7 -3.6 Z" fill="#8e8f91"/>
<rect x="-25" y="-3.2" width="29" height="1.4" rx="0.7" fill="#9a9b9d"/>
<text x="-6" y="3.8" font-family="Liberation Sans" font-size="4.6" font-weight="bold" fill="#8a8b8d" text-anchor="middle" textLength="20" lengthAdjust="spacingAndGlyphs">COVID-19</text>
</g>
<circle cx="92.7" cy="325" r="7.3" fill="#fff"/><rect x="88.2" y="324" width="9" height="2.2" fill="#79797b"/>
<rect x="66.5" y="302" width="9.6" height="2.2" fill="#fff"/><rect x="70.2" y="298.3" width="2.2" height="9.6" fill="#fff"/>
<circle cx="63.1" cy="295.0" r="3.1" fill="#fff" opacity="0.95"/>
<circle cx="63.1" cy="295.0" r="4.1" fill="none" stroke="#fff" stroke-width="0.9" stroke-dasharray="1 1.2" opacity="0.7"/>
<circle cx="77.7" cy="295.9" r="3.1" fill="#fff" opacity="0.95"/>
<circle cx="77.7" cy="295.9" r="4.1" fill="none" stroke="#fff" stroke-width="0.9" stroke-dasharray="1 1.2" opacity="0.7"/>
<circle cx="62.7" cy="309.1" r="3.1" fill="#fff" opacity="0.95"/>
<circle cx="62.7" cy="309.1" r="4.1" fill="none" stroke="#fff" stroke-width="0.9" stroke-dasharray="1 1.2" opacity="0.7"/>
<circle cx="83.2" cy="466.3" r="41.7" fill="#79797b"/>
<g fill="#fff">
<rect x="53.5" y="459.5" width="2.6" height="34"/>
<rect x="111" y="467.5" width="2.6" height="26"/>
<rect x="53.5" y="480.6" width="58" height="2.8"/>
<circle cx="62" cy="454.5" r="4.5"/>
<path d="M57.8 462 L60.5 460.5 L69 461 L77 468 L77 479.4 L57.8 479.4 Z"/>
</g>
<path d="M59.7 461.6 L70.5 473 L76.5 473" stroke="#79797b" stroke-width="1" fill="none"/>
<rect x="77.1" y="467.6" width="31" height="16" fill="#79797b" stroke="#fff" stroke-width="2.2"/>
<use href="#virus" transform="translate(88.6 445) scale(1.05)"/>
<circle cx="83.8" cy="638.9" r="42" fill="#79797b"/>
<path d="M66.5 652 L66.5 615 Q66.5 612.5 69 612.5 L73 612.5 Q82 606 91 612.5 L95 612.5 Q97.5 612.5 97.5 615 L97.5 652" stroke="#fff" stroke-width="1.6" fill="none"/>
<path d="M62 657 L62 651.5 L101 651.5 L101 657" stroke="#fff" stroke-width="1.6" fill="none"/>
<path d="M54.3 665.7 L54.3 659 Q82 654 109.3 659 L109.3 665.7 Z" fill="#fff"/>
<text x="82.10" y="622.90" font-family="Liberation Serif" font-size="7.50" font-weight="normal" fill="#fff" text-anchor="middle" textLength="12.00" lengthAdjust="spacingAndGlyphs" >RIP</text>
<rect x="72.9" y="625" width="17.8" height="1.3" fill="#fff"/><rect x="74" y="631.2" width="15" height="1.3" fill="#fff"/>
<use href="#virus" transform="translate(107.9 620) scale(0.72)"/>
<circle cx="417.3" cy="302.6" r="42" fill="#79797b"/>
<g fill="#fff">
<circle cx="406.4" cy="282.1" r="5.8"/>
<path transform="translate(394.3 288.6) scale(1.1)" d="M1.8 0 L20.3 0 Q22.1 0 22.1 2 L22.1 22.8 L17.5 22.8 L17.5 9.6 L16.7 9.6 L16.7 42.3 L12.1 42.3 L12.1 20.3 L10 20.3 L10 42.3 L5.4 42.3 L5.4 9.6 L4.6 9.6 L4.6 22.8 L0 22.8 L0 2 Q0 0 1.8 0 Z"/>
</g>
<use href="#virus" transform="translate(427.9 280.7) scale(1.05)"/>
<text x="432.20" y="316.40" font-family="Liberation Sans" font-size="14.00" font-weight="bold" fill="#fff" text-anchor="middle" textLength="11.50" lengthAdjust="spacingAndGlyphs" >%</text>
<circle cx="416.8" cy="526.8" r="42" fill="#79797b"/>
<g fill="#fff">
<circle cx="405" cy="505" r="5.5"/>
<path transform="translate(393.8 511.4)" d="M1.8 0 L20.3 0 Q22.1 0 22.1 2 L22.1 22.8 L17.5 22.8 L17.5 9.6 L16.7 9.6 L16.7 42.3 L12.1 42.3 L12.1 20.3 L10 20.3 L10 42.3 L5.4 42.3 L5.4 9.6 L4.6 9.6 L4.6 22.8 L0 22.8 L0 2 Q0 0 1.8 0 Z"/>
<rect x="419.8" y="537" width="10.9" height="13.8" rx="1.2"/>
<rect x="419.8" y="532.1" width="10.9" height="3.6" rx="0.8"/>
<rect x="420.8" y="535" width="8.9" height="2.5"/>
</g>
<g transform="translate(420.5 507) rotate(53.4)" fill="#fff">
<rect x="0" y="-0.65" width="10.5" height="1.3"/>
<rect x="9.5" y="-2" width="3" height="4"/>
<rect x="12" y="-3.1" width="19" height="6.2"/>
<rect x="20" y="-1.5" width="9" height="3" fill="#79797b"/>
<rect x="30" y="-5.2" width="2.2" height="10.4"/>
<rect x="32" y="-0.9" width="6" height="1.8"/>
<rect x="37.5" y="-4" width="2.2" height="8"/>
</g>
<rect x="0" y="727" width="700" height="2" fill="#5b5c5e"/>
<circle cx="139.3" cy="751.7" r="6.5" fill="#6d6e70"/>
<path d="M136.5 747.5 Q135 751 138.5 754.5 Q141.5 757 143 755.5 L141.5 753.5 L140 754 Q138.3 752.6 137.8 750.8 L139 750 L138.2 747.5 Z" fill="#fff"/>
<text x="150.30" y="756.10" font-family="Liberation Sans" font-size="11.00" font-weight="bold" fill="#6d6e70" text-anchor="start" textLength="18.00" lengthAdjust="spacingAndGlyphs" >114</text>
<circle cx="192" cy="751.7" r="6.5" fill="#6d6e70"/>
<path d="M186 757.5 L187.5 753.5 L190 755.5 Z" fill="#6d6e70"/>
<circle cx="192" cy="751.7" r="4.6" fill="none" stroke="#8c8d8f" stroke-width="0.7"/>
<path d="M189.3 748.8 Q188.3 751.5 191.3 754.2 Q194 756 195.2 754.8 L194 753.3 L192.8 753.8 Q191.2 752.8 190.6 751.2 L191.4 750.3 L190.7 748.4 Z" fill="#fff"/>
<text x="203.60" y="756.10" font-family="Liberation Sans" font-size="11.00" font-weight="bold" fill="#6d6e70" text-anchor="start" textLength="82.30" lengthAdjust="spacingAndGlyphs" >+250788202080</text>
<path d="M303.6 749 L311 744.4 L318.2 749 L318.2 756.9 L303.6 756.9 Z" fill="#6d6e70"/>
<rect x="306.5" y="746.5" width="8.5" height="6" fill="#fff"/><circle cx="310.8" cy="749.5" r="2" fill="#6d6e70"/>
<text x="320.70" y="755.10" font-family="Liberation Sans" font-size="11.00" font-weight="normal" fill="#6d6e70" text-anchor="start" textLength="100.70" lengthAdjust="spacingAndGlyphs" stroke="#6d6e70" stroke-width="0.35">callcenter@rbc.gov.rw</text>
<path transform="translate(438 746.8) scale(0.43)" fill="#6d6e70" d="M23.953 4.57a10 10 0 01-2.825.775 4.958 4.958 0 002.163-2.723c-.951.555-2.005.959-3.127 1.184a4.92 4.92 0 00-8.384 4.482C7.69 8.095 4.067 6.13 1.64 3.162a4.822 4.822 0 00-.666 2.475c0 1.71.87 3.213 2.188 4.096a4.904 4.904 0 01-2.228-.616v.06a4.923 4.923 0 003.946 4.827 4.996 4.996 0 01-2.212.085 4.936 4.936 0 004.604 3.417 9.867 9.867 0 01-6.102 2.105c-.39 0-.779-.023-1.17-.067a13.995 13.995 0 007.557 2.209c9.053 0 13.998-7.496 13.998-13.985 0-.21 0-.42-.015-.63A9.935 9.935 0 0024 4.59z"/>
<text x="458.40" y="756.00" font-family="Liberation Sans" font-size="12.00" font-weight="bold" fill="#6d6e70" text-anchor="middle" textLength="5.50" lengthAdjust="spacingAndGlyphs" >f</text>
<rect x="468.6" y="747.5" width="8.2" height="8.2" rx="2.3" fill="none" stroke="#6d6e70" stroke-width="1.3"/><circle cx="472.7" cy="751.6" r="1.9" fill="none" stroke="#6d6e70" stroke-width="1.2"/>
<rect x="483.5" y="751" width="7.5" height="5" rx="1.2" fill="#6d6e70"/><rect x="484" y="746.5" width="1.6" height="3.5" fill="#6d6e70"/><rect x="486.8" y="748" width="3.2" height="2.2" fill="#6d6e70"/>
<text x="495.40" y="755.10" font-family="Liberation Sans" font-size="11.00" font-weight="normal" fill="#6d6e70" text-anchor="start" textLength="77.10" lengthAdjust="spacingAndGlyphs" stroke="#6d6e70" stroke-width="0.35">@RwandaHealth</text>
</svg>
</body></html>
